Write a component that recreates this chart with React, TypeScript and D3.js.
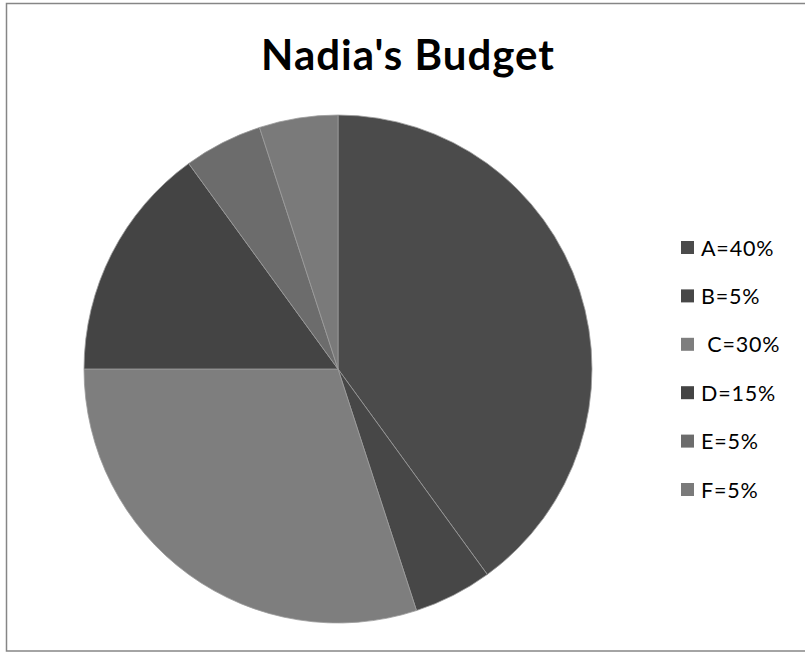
import React from "react";
import * as d3 from "d3";

const categories = ["A", "B", "C", "D", "E", "F"];
const values = [40, 5, 30, 15, 5, 5];
const legendLabels = ["A=40%", "B=5%", " C=30%", "D=15%", "E=5%", "F=5%"];
const colors = ["#4b4b4b", "#474747", "#7e7e7e", "#444444", "#6c6c6c", "#7a7a7a"];

export default function App() {
  const W = 805, H = 653;
  const cx = 338, cy = 369, r = 254;
  const data = categories.map((c, i) => ({ c, v: values[i], i }));
  const pie = d3.pie<any>().value((d) => d.v).sort(null);
  const arcs = pie(data);
  const arcGen = d3.arc<any>().innerRadius(0).outerRadius(r);
  const legendY = d3.scalePoint<string>().domain(categories).range([248, 490]);
  return (
    <svg width={W} height={H} style={{ position: "absolute", left: 0, top: 0 }}>
      <rect x={0} y={0} width={W} height={H} fill="#fff" />
      <rect x={6.5} y={3.5} width={W} height={647.5} fill="none" stroke="#868686" strokeWidth={1.5} />
      <text x={408} y={70} textAnchor="middle" fontFamily="Lato, 'Open Sans', sans-serif" fontWeight="bold" fontSize={42} letterSpacing={1} fill="#000">
        Nadia's Budget
      </text>
      <g transform={`translate(${cx},${cy})`}>
        {arcs.map((a, i) => (
          <path key={i} d={arcGen(a) as string} fill={colors[i]} stroke="#9c9c9c" strokeWidth={0.8} />
        ))}
      </g>
      {categories.map((c, i) => (
        <g key={c} transform={`translate(681,${legendY(c)})`}>
          <rect x={0} y={-7} width={13} height={13} fill={colors[i]} />
          <text x={20} y={0} dy="0.35em" fontFamily="Lato, 'Open Sans', sans-serif" fontSize={21.5} letterSpacing={0.8} fill="#000" style={{ whiteSpace: "pre" }}>
            {legendLabels[i]}
          </text>
        </g>
      ))}
    </svg>
  );
}
